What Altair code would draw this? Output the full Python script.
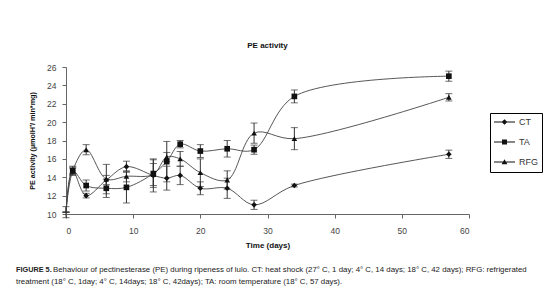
import altair as alt
import pandas as pd

days = [0, 1, 3, 6, 9, 13, 15, 17, 20, 24, 28, 34, 57]
series_names = ["CT", "TA", "RFG"]
ct = [10.2, 14.7, 12.0, 13.7, 15.15, 14.2, 13.9, 14.2, 12.8, 12.8, 11.0, 13.1, 16.5]
ta = [10.2, 14.7, 13.1, 12.8, 12.9, 14.4, 15.7, 17.6, 16.85, 17.1, 17.0, 22.8, 25.0]
rfg = [10.2, 14.7, 17.0, 13.8, 14.1, 14.3, 16.2, 16.0, 14.5, 13.7, 18.8, 18.2, 22.7]
ct_err = [0.6, 0.3, 0.25, 0.5, 0.6, 1.8, 1.3, 1.0, 0.7, 1.1, 0.5, 0.15, 0.45]
ta_err = [0.0, 0.5, 0.6, 1.0, 1.7, 1.5, 2.2, 0.4, 0.7, 0.9, 0.5, 0.7, 0.55]
rfg_err = [0.0, 0.4, 0.55, 1.6, 0.6, 1.2, 0.5, 0.8, 1.5, 1.0, 1.1, 1.2, 0.4]
x_ticks = [0, 10, 20, 30, 40, 50, 60]
y_ticks = [10, 12, 14, 16, 18, 20, 22, 24, 26]

caption_bold = "FIGURE 5."
caption_line1 = ("Behaviour of pectinesterase (PE) during ripeness of lulo. CT: heat shock "
                 "(27\u00b0 C, 1 day; 4\u00b0 C, 14 days; 18\u00b0 C, 42 days); RFG: refrigerated")
caption_line2 = ("treatment (18\u00b0 C, 1day; 4\u00b0 C, 14days; 18\u00b0 C, 42days); "
                 "TA: room temperature (18\u00b0 C, 57 days).")

rows = []
for name, vals, errs in [("CT", ct, ct_err), ("TA", ta, ta_err), ("RFG", rfg, rfg_err)]:
    for d, v, e in zip(days, vals, errs):
        rows.append({"day": d, "value": v, "lo": v - e, "hi": v + e, "series": name})
df = pd.DataFrame(rows)

FONT = "Liberation Sans"

W, H = 403, 147

xs = alt.Scale(domain=[0, 60], nice=False)
ys = alt.Scale(domain=[10, 26], nice=False, zero=False)

x_axis = alt.Axis(title="Time (days)", values=x_ticks, grid=False, tickSize=4,
                  labelPadding=8, titlePadding=7, labelOverlap=False)
y_axis = alt.Axis(title="PE activity  (\u00b5molH\u207a/ min*mg)", values=y_ticks,
                  grid=False, tickSize=4, labelPadding=6, titlePadding=10,
                  labelOverlap=False, titleFontSize=7.2)


def X():
    return alt.X("day:Q", scale=xs, axis=x_axis)


def Y(field):
    return alt.Y(field + ":Q", scale=ys, axis=y_axis)


base = alt.Chart(df)

lines = base.mark_line(interpolate="catmull-rom", color="#444444", strokeWidth=0.9).encode(
    x=X(), y=Y("value"), detail="series:N")

bars = base.mark_rule(color="#333", strokeWidth=1).encode(
    x=X(), y=Y("lo"), y2="hi:Q")
cap_lo = base.mark_tick(orient="horizontal", size=7, thickness=1, color="#333").encode(
    x=X(), y=Y("lo"))
cap_hi = base.mark_tick(orient="horizontal", size=7, thickness=1, color="#333").encode(
    x=X(), y=Y("hi"))

points = base.mark_point(filled=True, color="#111", opacity=1, size=32).encode(
    x=X(), y=Y("value"),
    shape=alt.Shape("series:N", scale=alt.Scale(domain=series_names,
                                               range=["diamond", "square", "triangle-up"]),
                    legend=None)).transform_filter(alt.datum.day > 0)

# legend symbols: thin bar (line) with marker, all filled
LINE = "M-1.25,-0.12H4V0.12H-1.25Z"
leg_paths = [
    LINE + "M1.375,-0.7L2.1,0L1.375,0.7L0.65,0Z",
    LINE + "M0.75,-0.65H2V0.65H0.75Z",
    LINE + "M1.375,-0.7L2.1,0.55L0.65,0.55Z",
]
legend_layer = base.mark_point(filled=True, color="#111", opacity=0).encode(
    x=X(), y=Y("value"),
    shape=alt.Shape("series:N",
                    scale=alt.Scale(domain=series_names, range=leg_paths),
                    legend=alt.Legend(title=None, orient="none", legendX=424, legendY=46,
                                      strokeColor="#000", fillColor="#fff", padding=4,
                                      symbolSize=64,
                                      symbolOpacity=1, symbolFillColor="#111",
                                      labelFont=FONT, labelFontSize=9, labelColor="#333",
                                      labelOffset=15, rowPadding=8)))

cap_b = alt.Chart(pd.DataFrame({"t": [caption_bold]})).mark_text(
    align="left", baseline="middle", font=FONT, fontSize=7.3, fontWeight="bold", color="#222"
).encode(x=alt.value(-50), y=alt.value(203), text="t:N")
cap_1 = alt.Chart(pd.DataFrame({"t": [caption_line1]})).mark_text(
    align="left", baseline="middle", font=FONT, fontSize=7.85, color="#222"
).encode(x=alt.value(-13), y=alt.value(203), text="t:N")
cap_2 = alt.Chart(pd.DataFrame({"t": [caption_line2]})).mark_text(
    align="left", baseline="middle", font=FONT, fontSize=7.85, color="#222"
).encode(x=alt.value(-50), y=alt.value(215), text="t:N")

chart = alt.layer(lines, bars, cap_lo, cap_hi, points, legend_layer, cap_b, cap_1, cap_2).resolve_scale(
    shape="independent"
).properties(
    width=W, height=H,
    background="white",
    title=alt.TitleParams("PE activity", font=FONT, fontSize=8, fontWeight="bold",
                          color="#111", offset=13, anchor="middle"),
    autosize=alt.AutoSizeParams(type="none"),
    padding={"left": 66, "top": 67, "right": 91, "bottom": 87},
).configure_view(stroke=None).configure_axis(
    domainColor="#666", tickColor="#666", labelFont=FONT, labelFontSize=8.5,
    labelColor="#444", titleFont=FONT, titleFontSize=8, titleFontWeight="bold",
    titleColor="#111"
).configure_legend(strokeColor="#000", strokeWidth=1)

chart.save("out.html", embed_options={"renderer": "svg", "actions": False})
